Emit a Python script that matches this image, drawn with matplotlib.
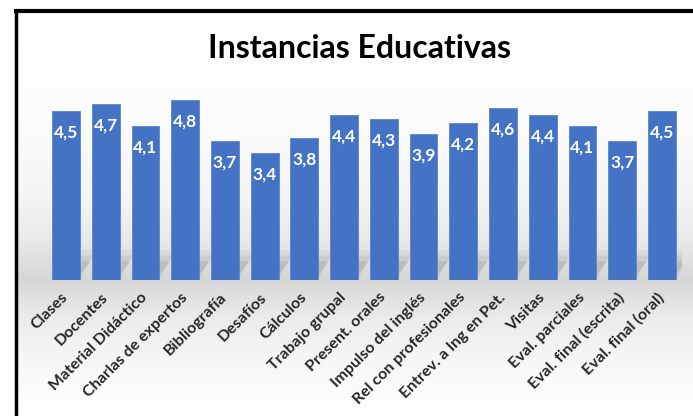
import numpy as np
import matplotlib
matplotlib.use("Agg")
import matplotlib.pyplot as plt
from matplotlib.patches import Polygon
from matplotlib.lines import Line2D

categories = [
    "Clases", "Docentes", "Material Didáctico", "Charlas de expertos",
    "Bibliografía", "Desafíos", "Cálculos", "Trabajo grupal",
    "Present. orales", "Impulso del inglés", "Rel con profesionales",
    "Entrev. a Ing en Pet.", "Visitas", "Eval. parciales",
    "Eval. final (escrita)", "Eval. final (oral)",
]
values = [4.5, 4.7, 4.1, 4.8, 3.7, 3.4, 3.8, 4.4, 4.3, 3.9, 4.2, 4.6, 4.4, 4.1, 3.7, 4.5]
title = "Instancias Educativas"

W, H = 693, 416
fig = plt.figure(figsize=(W / 100, H / 100), dpi=100)
fig.patch.set_facecolor("white")

# soft gray "floor" gradient behind the plot
bg = fig.add_axes([17 / W, 0, 1 - 17 / W, (H - 13) / H], zorder=-5)
rows = np.arange(13, H)
ypx = [13, 120, 200, 240, 262, 280, 292, 320, 360, 400, 416]
lvl = [255, 252, 244, 233, 222, 214, 222, 236, 247, 253, 255]
g = np.interp(rows, ypx, lvl) / 255.0
img = np.repeat(g[:, None], 10, axis=1)
bg.imshow(np.dstack([img, img, img]), aspect="auto", extent=[0, 1, 0, 1])
bg.set_axis_off()

# plot area
x0, x1 = 46.1, 681.8
ybot, ytop = 280, 92.5
ax = fig.add_axes([x0 / W, (H - ybot) / H, (x1 - x0) / W, (ybot - ytop) / H])
ax.set_facecolor("none")
x = np.arange(len(categories))
bw = 0.70

# slanted shadows behind the bars
for xi in x:
    for k, a in enumerate([0.05, 0.07, 0.09]):
        s = 0.06 * k
        poly = Polygon(
            [(xi - bw / 2 + s, 0), (xi + bw / 2 - s, 0),
             (xi + bw / 2 + 0.40 - s, 0.8 - 0.15 * k), (xi - bw / 2 + 0.40 + s, 0.8 - 0.15 * k)],
            closed=True, facecolor="#404040", edgecolor="none", alpha=a, zorder=1)
        ax.add_patch(poly)

ax.bar(x, values, width=bw, color="#4472C4", edgecolor="#5a84cc", linewidth=0.6, zorder=3)

for xi, v in zip(x, values):
    ax.text(xi, v - 0.58, f"{v:.1f}".replace(".", ","), ha="center", va="center",
            color="white", fontsize=12.5, fontweight="bold", family="Lato", zorder=4)

ax.set_xlim(-0.5, len(categories) - 0.5)
ax.set_ylim(0, 5.0)
ax.set_yticks([])
ax.set_xticks(x)
ax.set_xticklabels(categories, rotation=45, ha="right", va="center",
                   rotation_mode="anchor", fontsize=11.5, family="Lato",
                   fontweight="bold", color="#262626")
ax.tick_params(axis="x", length=0, pad=11)
for sp in ax.spines.values():
    sp.set_visible(False)

fig.text(360 / W, (H - 48) / H, title, ha="center", va="center",
         fontsize=23, fontweight="bold", family="Lato", color="black")

# frame lines on the top and left
fig.add_artist(Line2D([14 / W, 1], [(H - 11) / H, (H - 11) / H], color="black",
                      linewidth=3.0, transform=fig.transFigure, solid_capstyle="butt"))
fig.add_artist(Line2D([15.5 / W, 15.5 / W], [0, (H - 9.5) / H], color="black",
                      linewidth=2.5, transform=fig.transFigure, solid_capstyle="butt"))

fig.savefig("out.png", dpi=100)
